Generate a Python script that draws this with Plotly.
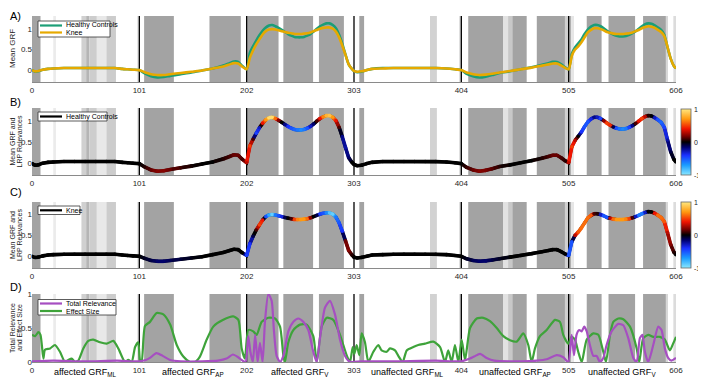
import plotly.graph_objects as go
from plotly.colors import sample_colorscale

# ---- mean ground reaction forces (6 concatenated 101-sample signals) ----
grf_x = [0, 3, 6, 10, 15, 20, 30, 40, 50, 60, 70, 78, 85, 90, 95,
         101, 106, 112, 118, 124, 130, 140, 150, 160, 170, 180, 186, 190, 194, 198,
         202, 205, 208, 211, 214, 217, 220, 223, 226, 229, 232, 235, 238, 241, 244, 247, 250,
         253, 256, 259, 262, 265, 268, 271, 274, 277, 280, 283, 286, 289, 292, 295, 298, 301,
         303, 306, 310, 315, 320, 330, 340, 350, 360, 370, 380, 390, 398,
         404, 409, 415, 421, 427, 433, 440, 450, 460, 470, 480, 486, 490, 494, 498, 502,
         505, 508, 511, 514, 517, 520, 523, 526, 529, 532, 535, 538, 541, 544, 547, 550, 553,
         556, 559, 562, 565, 568, 571, 574, 577, 580, 583, 586, 589, 592, 595, 598, 601, 604, 606]

healthy_grf = [0.00, -0.04, -0.03, 0.01, 0.03, 0.04, 0.05, 0.05, 0.05, 0.05, 0.05, 0.05, 0.03, 0.02, 0.01,
               0.00, -0.08, -0.15, -0.18, -0.17, -0.14, -0.10, -0.06, -0.01, 0.04, 0.11, 0.17, 0.21, 0.20, 0.10,
               0.02, 0.42, 0.58, 0.72, 0.85, 0.96, 1.04, 1.09, 1.10, 1.07, 1.03, 0.98, 0.93, 0.88, 0.84, 0.81, 0.80,
               0.80, 0.81, 0.84, 0.88, 0.94, 1.01, 1.07, 1.11, 1.14, 1.14, 1.10, 1.02, 0.86, 0.64, 0.38, 0.14, 0.03,
               -0.02, -0.05, -0.04, 0.00, 0.03, 0.05, 0.05, 0.05, 0.05, 0.05, 0.05, 0.04, 0.02,
               0.00, -0.09, -0.15, -0.18, -0.16, -0.12, -0.07, -0.03, 0.02, 0.07, 0.13, 0.17, 0.20, 0.20, 0.14, 0.06,
               0.02, 0.40, 0.55, 0.65, 0.75, 0.88, 0.99, 1.06, 1.10, 1.10, 1.07, 1.02, 0.96, 0.91, 0.87, 0.84, 0.82,
               0.82, 0.83, 0.86, 0.90, 0.95, 1.01, 1.07, 1.12, 1.14, 1.13, 1.09, 1.04, 0.98, 0.86, 0.56, 0.28, 0.10, 0.04]

knee_grf = [0.00, -0.03, -0.02, 0.01, 0.03, 0.04, 0.05, 0.05, 0.05, 0.05, 0.05, 0.05, 0.03, 0.02, 0.01,
            0.00, -0.05, -0.10, -0.12, -0.12, -0.10, -0.07, -0.04, -0.01, 0.04, 0.09, 0.14, 0.17, 0.16, 0.08,
            0.02, 0.30, 0.48, 0.63, 0.75, 0.87, 0.95, 0.99, 1.00, 0.99, 0.97, 0.95, 0.93, 0.91, 0.90, 0.88, 0.88,
            0.88, 0.89, 0.90, 0.92, 0.95, 0.98, 1.01, 1.03, 1.04, 1.04, 1.01, 0.94, 0.80, 0.60, 0.37, 0.14, 0.03,
            -0.02, -0.04, -0.03, 0.00, 0.03, 0.04, 0.05, 0.05, 0.05, 0.05, 0.05, 0.04, 0.02,
            0.00, -0.06, -0.10, -0.12, -0.11, -0.09, -0.06, -0.02, 0.02, 0.06, 0.11, 0.14, 0.16, 0.16, 0.11, 0.05,
            0.02, 0.35, 0.50, 0.58, 0.68, 0.80, 0.92, 0.98, 1.02, 1.02, 1.00, 0.97, 0.93, 0.91, 0.89, 0.88, 0.88,
            0.88, 0.89, 0.90, 0.92, 0.95, 0.98, 1.02, 1.05, 1.07, 1.06, 1.03, 0.98, 0.93, 0.83, 0.57, 0.28, 0.10, 0.04]

# ---- LRP relevances along the curves (-1 .. 1) ----
healthy_rel = [0, 0, 0, 0, 0, 0, 0, 0, 0, 0, 0, 0, 0, 0, 0,
               0, 0.05, 0.15, 0.2, 0.2, 0.15, 0.08, 0.03, 0, 0, 0.05, 0.1, 0.15, 0.15, 0.1,
               0.3, 0.5, 0.1, -0.45, -0.3, 0.4, 0.7, 0.95, 0.95, 0.6, 0.2, 0.0, -0.2, -0.4, -0.5, -0.55, -0.6,
               -0.65, -0.6, -0.5, -0.3, -0.15, 0.1, 0.4, 0.65, 0.8, 0.85, 0.7, 0.4, 0.1, -0.2, -0.25, -0.15, 0.0,
               0, 0, 0, 0, 0, 0, 0, 0, 0, 0, 0, 0, 0,
               0, 0.08, 0.15, 0.2, 0.18, 0.12, 0.05, 0, 0, 0, 0.05, 0.1, 0.15, 0.15, 0.1, 0.05,
               0.3, 0.5, 0.3, 0.0, -0.4, -0.5, -0.5, -0.35, -0.2, -0.3, -0.45, 0.2, 0.5, 0.45, -0.1, -0.5, -0.6,
               -0.65, -0.6, -0.45, -0.2, 0.1, 0.4, 0.5, 0.3, 0.05, 0.0, -0.3, -0.5, -0.55, -0.45, -0.25, -0.1, 0.0, 0.0]

knee_rel = [0, 0, 0, 0, 0, 0, 0, 0, 0, 0, 0, 0, 0, 0, 0,
            0, -0.05, -0.1, -0.15, -0.15, -0.12, -0.08, -0.03, 0, 0, 0, 0, 0, 0, 0,
            -0.45, -0.4, -0.1, 0.1, 0.5, 0.4, -0.5, -0.75, -0.9, -0.6, -0.5, -0.35, -0.1, 0.0, 0.1, 0.5, 0.65,
            0.7, 0.7, 0.6, 0.2, 0.0, -0.1, -0.45, -0.5, -0.65, -0.85, -0.9, -0.6, -0.5, -0.4, 0.15, 0.2, 0.05,
            0, 0, 0, 0, 0, 0, 0, 0, 0, 0, 0, 0, 0,
            0, -0.05, -0.12, -0.15, -0.15, -0.1, -0.05, 0, 0, 0, 0, 0, 0, 0, 0, 0,
            -0.5, -0.5, 0.3, 0.55, 0.6, 0.6, 0.6, 0.55, 0.1, 0.05, -0.3, -0.5, -0.5, 0.3, 0.6, 0.7, 0.7,
            0.7, 0.65, 0.5, 0.1, -0.3, -0.6, -0.6, -0.3, 0.0, 0.0, 0.4, 0.6, 0.6, 0.55, 0.3, 0.2, 0.05, 0.0]

# ---- panel D ----
relevance_x = [0, 20, 50, 80, 101, 107, 111, 117, 123, 130, 140, 160, 175, 183, 189, 194, 199, 201,
               203.5, 205.5, 207.8, 210, 212.3, 214.5, 217, 219.2, 222.4, 225.5, 227.7, 230.2, 233.4,
               236.5, 241.2, 245.9, 250.6, 255.3, 260, 264.7, 267.9, 271, 275.7, 280.4, 285.1, 289.8,
               294.5, 297.6, 300.7, 310, 340, 380, 404, 412, 416, 421.6, 427.8, 435, 460, 475, 484.3,
               493.7, 499.9, 504.6, 507.8, 510, 512.4, 515, 517.3, 519.6, 522, 525, 528.2, 531.3, 534.4,
               537.6, 540.7, 545.4, 551.7, 556.4, 561.1, 565.8, 569, 572, 574.4, 576.7, 579.9, 584.6,
               589.3, 592.4, 595.5, 598.6, 601.7, 606]
total_relevance = [0.01, 0.02, 0.01, 0.02, 0.01, 0.03, 0.06, 0.13, 0.09, 0.03, 0.01, 0.01, 0.02, 0.05, 0.11, 0.07, 0.01, 0.0,
                   0.38, 0.15, 0.0, 0.4, 0.0, 0.28, 0.0, 0.59, 1.0, 0.9, 0.45, 0.09, 0.0,
                   0.09, 0.45, 0.59, 0.64, 0.59, 0.47, 0.15, 0.0, 0.35, 0.8, 0.9, 0.7, 0.33,
                   0.09, 0.02, 0.0, 0.01, 0.01, 0.02, 0.01, 0.05, 0.08, 0.12, 0.06, 0.02, 0.01, 0.02, 0.04,
                   0.1, 0.07, 0.0, 0.4, 0.1, 0.4, 0.47, 0.45, 0.52, 0.45, 0.25, 0.09, 0.09, 0.0,
                   0.06, 0.25, 0.45, 0.56, 0.54, 0.35, 0.06, 0.0, 0.35, 0.4, 0.15, 0.0, 0.25,
                   0.52, 0.47, 0.2, 0.06, 0.02, 0.06]

effect_x = [0, 3, 6, 8, 10.7, 12.2, 17, 21.6, 26.3, 31, 34.2, 37.3, 40.5, 43.6, 48.3, 53, 57.7, 64, 70.3,
            76.5, 81.2, 87.5, 90.6, 93.8, 97, 100, 101.6, 103.2, 106.3, 111, 117.3, 123.6, 130, 136.2,
            142.4, 148.7, 153.4, 158, 164.4, 170.6, 180, 189.4, 194.2, 197.3, 200.4, 203.5, 208.2, 211.4,
            216.1, 222.4, 228.7, 233.4, 236.5, 238, 241.2, 245.9, 252.2, 258.5, 264.7, 267.9, 272.6,
            277.3, 283.5, 289.8, 296.1, 299.2, 301.8, 303.3, 305.5, 308, 310.2, 313.3, 316.5, 321.2,
            325.9, 329, 333.7, 336.9, 341.6, 344.7, 348.8, 352.6, 358.8, 363.5, 369.8, 377.6, 384,
            388.6, 391.7, 394.9, 398, 401.2, 404.3, 407.5, 412.2, 418.5, 424.7, 431, 437.3, 443.5,
            449.8, 456.1, 462.3, 467, 470.2, 473.3, 478, 484.3, 492.1, 496.8, 499.9, 504.6, 507.8,
            510.9, 514, 517.3, 522, 528.2, 532.9, 537.6, 540.1, 543.9, 547, 551.7, 556.4, 562.7, 569,
            571.4, 575.2, 579.9, 584.6, 590.8, 595.5, 600.2, 603.3, 606]
effect_size = [0.40, 0.38, 0.44, 0.40, 0.05, 0.18, 0.20, 0.25, 0.15, 0.0, 0.03, 0.05, 0.0, 0.02, 0.20, 0.31, 0.33, 0.29, 0.27,
               0.31, 0.20, 0.0, 0.03, 0.0, 0.22, 0.29, 0.03, 0.0, 0.53, 0.59, 0.72, 0.70, 0.55, 0.25,
               0.08, 0.0, 0.0, 0.08, 0.33, 0.52, 0.62, 0.67, 0.62, 0.20, 0.05, 0.47, 0.45, 0.40,
               0.59, 0.65, 0.64, 0.52, 0.10, 0.0, 0.29, 0.47, 0.55, 0.55, 0.38, 0.0, 0.52,
               0.65, 0.62, 0.40, 0.10, 0.0, 0.22, 0.12, 0.25, 0.10, 0.42, 0.29, 0.0, 0.15,
               0.25, 0.17, 0.15, 0.20, 0.17, 0.09, 0.0, 0.17, 0.22, 0.25, 0.27, 0.30, 0.22,
               0.0, 0.17, 0.0, 0.25, 0.0, 0.33, 0.03, 0.50, 0.64, 0.65, 0.60, 0.50, 0.38,
               0.32, 0.30, 0.42, 0.25, 0.0, 0.20, 0.38, 0.47, 0.62, 0.59, 0.40, 0.27, 0.37,
               0.33, 0.15, 0.0, 0.33, 0.42, 0.40, 0.15, 0.0, 0.40, 0.59, 0.64, 0.63, 0.52, 0.20,
               0.0, 0.35, 0.40, 0.37, 0.37, 0.33, 0.17, 0.27, 0.37]

# ---- significance bands ----
band_start = [0, 20, 46.5, 51, 54, 61, 70, 99, 105.5, 167, 202.5, 236.5, 270, 308, 374.5, 402,
              410.5, 443.5, 448, 452, 475, 501.5, 505.5, 507.5, 522, 542.5, 575, 596.5, 603.5]
band_end = [8, 22.5, 51, 54, 61, 70, 79, 101, 133.5, 196.5, 232, 264.5, 293.5, 312.5, 381, 404,
            443.5, 448, 452, 465.5, 501.5, 505, 507.5, 510, 536, 567.5, 596.5, 598.5, 606]
band_gray = [163, 235, 208, 181, 205, 232, 204, 224, 163, 163, 163, 163, 163, 163, 210, 216,
             163, 226, 200, 163, 163, 208, 176, 230, 163, 163, 163, 215, 220]

boundaries = [101, 202, 303, 404, 505]
tick_vals = [0, 101, 202, 303, 404, 505, 606]
colorbar_ticks = [1, 0, -1]
segment_centres = [50.5, 151.5, 252.5, 353.5, 454.5, 555.5]
segment_names = ["affected GRF<sub>ML</sub>", "affected GRF<sub>AP</sub>", "affected GRF<sub>V</sub>",
                 "unaffected GRF<sub>ML</sub>", "unaffected GRF<sub>AP</sub>", "unaffected GRF<sub>V</sub>"]

FONT = "Liberation Sans, Arial, sans-serif"
HEALTHY = "#1b9e77"
KNEE = "#e6a900"
RELEVANCE = "#a64fc1"
EFFECT = "#3ea33a"
LRP_SCALE = [[0.0, "#8ae8ff"], [0.15, "#1a9cff"], [0.3, "#1a30ff"], [0.42, "#000070"],
             [0.5, "#000000"], [0.58, "#700000"], [0.7, "#f01400"], [0.85, "#ff9a10"], [1.0, "#ffe880"]]

# the page body adds an 8px margin, so the figure is made 8px smaller and
# everything below is given in page pixels: plot area x 32..676, y 16..362
OFF = 8
L, R, T, B = 32, 676, 16, 362


def px(x):
    return (x - L) / (R - L)


def py(y):
    return (B - y) / (B - T)


domains = [[py(82), py(16)], [py(175), py(108)], [py(268), py(202)], [py(362), py(294)]]
yranges = [[-0.29, 1.32], [-0.27, 1.32], [-0.28, 1.3], [0, 1]]

fig = go.Figure()

# A) mean GRF of both groups
fig.add_trace(go.Scatter(x=grf_x, y=healthy_grf, mode="lines", name="Healthy Controls",
                         line=dict(color=HEALTHY, width=2.6, shape="spline", smoothing=0.6),
                         xaxis="x", yaxis="y"))
fig.add_trace(go.Scatter(x=grf_x, y=knee_grf, mode="lines", name="Knee",
                         line=dict(color=KNEE, width=2.6, shape="spline", smoothing=0.6),
                         xaxis="x", yaxis="y"))

annotations = []


def add_relevance_curve(values, rel, n, name, top, bottom):
    xa, ya = "x%d" % n, "y%d" % n
    fig.add_trace(go.Scatter(x=grf_x, y=values, mode="lines", name=name,
                             line=dict(color="black", width=3), xaxis=xa, yaxis=ya, hoverinfo="skip"))
    colours = sample_colorscale(LRP_SCALE, [(a + b) / 4 + 0.5 for a, b in zip(rel[:-1], rel[1:])])
    for i, c in enumerate(colours):
        fig.add_trace(go.Scatter(x=grf_x[i:i + 2], y=values[i:i + 2], mode="lines",
                                 line=dict(color=c, width=3.6), hoverinfo="skip", xaxis=xa, yaxis=ya))
    fig.add_trace(go.Scatter(
        x=grf_x, y=values, mode="markers", xaxis=xa, yaxis=ya,
        marker=dict(color=rel, colorscale=LRP_SCALE, cmin=-1, cmax=1, size=3.6, line=dict(width=0),
                    showscale=True,
                    colorbar=dict(x=px(681), xanchor="left", y=py((top + bottom) / 2), yanchor="middle",
                                  len=py(top) - py(bottom), thickness=10, xpad=0, ypad=0,
                                  showticklabels=False, ticks="", outlinewidth=0.8, outlinecolor="#666"))))
    # colour bar labels, placed next to the bar
    for v in colorbar_ticks:
        yy = bottom + (top - bottom) * (v + 1) / 2
        annotations.append(dict(text=str(v), x=px(692), y=py(yy), xref="paper", yref="paper",
                                xanchor="left", yanchor="middle", showarrow=False,
                                font=dict(size=7, color="#222")))


add_relevance_curve(healthy_grf, healthy_rel, 2, "Healthy Controls", 109, 175)
add_relevance_curve(knee_grf, knee_rel, 3, "Knee", 202, 268)

# D) total relevance and effect size
fig.add_trace(go.Scatter(x=effect_x, y=effect_size, mode="lines", name="Effect Size",
                         line=dict(color=EFFECT, width=2.2, shape="spline", smoothing=0.6),
                         xaxis="x4", yaxis="y4"))
fig.add_trace(go.Scatter(x=relevance_x, y=total_relevance, mode="lines", name="Total Relevance",
                         line=dict(color=RELEVANCE, width=2.2, shape="spline", smoothing=0.6),
                         xaxis="x4", yaxis="y4"))

shapes = []
for n in range(1, 5):
    xr = "x" if n == 1 else "x%d" % n
    yr = ("y" if n == 1 else "y%d" % n) + " domain"
    for s, e, g in zip(band_start, band_end, band_gray):
        shapes.append(dict(type="rect", xref=xr, yref=yr, x0=s, x1=e, y0=0, y1=1, layer="below",
                           fillcolor="rgb(%d,%d,%d)" % (g, g, g), line=dict(width=0)))
    for b in boundaries:
        shapes.append(dict(type="line", xref=xr, yref=yr, x0=b, x1=b, y0=0, y1=1, layer="below",
                           line=dict(color="black", width=1.3)))

# legends drawn as boxes, line samples and texts (MATLAB-style compact legends)
legends = [
    (38, 110, 21, 37, [(25.5, HEALTHY, "Healthy Controls"), (32.5, KNEE, "Knee")]),
    (38, 107, 112, 121, [(116.5, "black", "Healthy Controls")]),
    (38, 80, 206, 214.5, [(210.3, "black", "Knee")]),
    (38, 116, 299.5, 315, [(303.5, RELEVANCE, "Total Relevance"), (311, EFFECT, "Effect Size")]),
]
for x0, x1, y0, y1, items in legends:
    shapes.append(dict(type="rect", xref="paper", yref="paper", x0=px(x0), x1=px(x1), y0=py(y1), y1=py(y0),
                       fillcolor="white", line=dict(color="#333", width=0.8), layer="above"))
    for yy, col, txt in items:
        shapes.append(dict(type="line", xref="paper", yref="paper", x0=px(40), x1=px(62), y0=py(yy), y1=py(yy),
                           line=dict(color=col, width=2.2), layer="above"))
        annotations.append(dict(text=txt, x=px(64), y=py(yy), xref="paper", yref="paper", xanchor="left",
                                yanchor="middle", showarrow=False, font=dict(size=7, color="black")))

layout = dict(width=706 - OFF, height=380 - OFF,
              margin=dict(l=L - OFF, r=706 - R, t=T - OFF, b=380 - B, autoexpand=False),
              paper_bgcolor="white", plot_bgcolor="white", shapes=shapes, showlegend=False,
              font=dict(family=FONT, size=8, color="#222"))

for n in range(1, 5):
    sx = "" if n == 1 else str(n)
    layout["xaxis" + sx] = dict(domain=[0, 1], range=[0, 606], anchor="y" + sx, tickvals=tick_vals,
                                showgrid=False, zeroline=False, showline=True, linecolor="#8a8a8a",
                                linewidth=1, ticks="", automargin=False,
                                tickfont=dict(size=8, color="#262626"))
    layout["yaxis" + sx] = dict(domain=domains[n - 1], range=yranges[n - 1], anchor="x" + sx,
                                tickvals=[0, 0.5, 1], ticktext=["0", "0.5", "1"], showgrid=False,
                                zeroline=False, showline=False, ticks="", automargin=False,
                                ticklabelstandoff=-1, tickfont=dict(size=8, color="#262626"))

# panel letters sit in the top-left corner of the figure
for label, y in zip(["A)", "B)", "C)", "D)"], [OFF, 94, 184, 279]):
    annotations.append(dict(text=label, x=px(OFF), y=py(y), xref="paper", yref="paper", xanchor="left",
                            yanchor="top", showarrow=False, font=dict(size=11, color="black")))

# y-axis titles, one annotation per text line
y_titles = [["Mean GRF"], ["Mean GRF and", "LRP Relevances"], ["Mean GRF and", "LRP Relevances"],
            ["Total Relevance", "and Effect Size"]]
for n, lines in enumerate(y_titles):
    d = domains[n]
    centres = [13] if len(lines) == 1 else [12, 19]
    size = 8 if len(lines) == 1 else 7
    for t, c in zip(lines, centres):
        annotations.append(dict(text=t, x=px(c), y=(d[0] + d[1]) / 2, xref="paper", yref="paper",
                                xanchor="center", yanchor="middle", textangle=-90, showarrow=False,
                                font=dict(size=size, color="#222")))
for c, t in zip(segment_centres, segment_names):
    annotations.append(dict(text=t, x=c, y=py(365), xref="x4", yref="paper", xanchor="center",
                            yanchor="top", showarrow=False, font=dict(size=9, color="black")))
layout["annotations"] = annotations

fig.update_layout(layout)
fig.write_html("out.html")
